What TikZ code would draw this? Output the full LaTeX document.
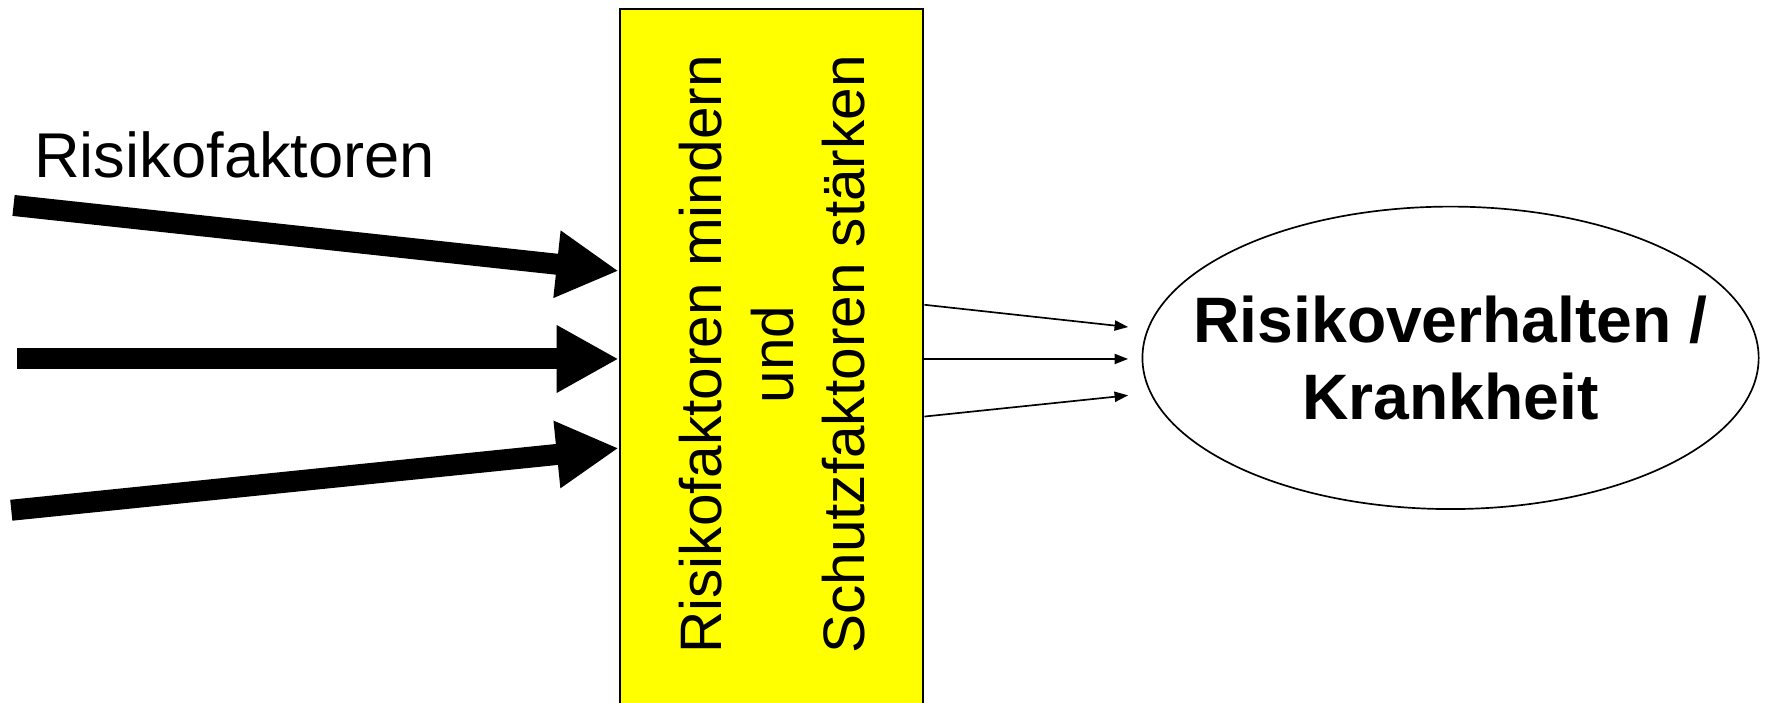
\documentclass[tikz,border=0pt]{standalone}
\usepackage{fontspec}
\setmainfont{Liberation Sans}
\usetikzlibrary{arrows.meta, shapes.geometric, calc}
\definecolor{boxyellow}{RGB}{255,255,0}
\tikzset{>=latex}
\tikzset{
  fat arrow/.style = {line width = 10.6pt, -{Triangle[length = 1.1cm, width = 1.12cm]}},
  thin arrow/.style = {line width = 0.85pt, shorten > = 0.24cm, -{Triangle[length = 0.24cm, width = 0.18cm]}},
  filter box/.style = {draw, line width = 1.1pt, fill = boxyellow, minimum width = 5.38cm, minimum height = 12.88cm, inner sep = 0pt},
  outcome/.style = {draw, ellipse, line width = 0.85pt, minimum width = 10.92cm, minimum height = 5.36cm, inner sep = 0pt}
}

\begin{document}
\begin{tikzpicture}[x = 0.02cm, y = -0.02cm]
\useasboundingbox (0,0) rectangle (1568,622);
\clip (0,0) rectangle (1568,622);
\node[filter box] (filter) at (683.5,330) {};
\node[rotate = 90, align = center, inner sep = 0pt, font = \fontsize{29.5}{35.9}\selectfont] (filtertext) at (684,314) {Risikofaktoren mindern\\und\\Schutzfaktoren st\"arken};
\node[outcome] (outcome) at (1285,317) {};
\node[align = center, inner sep = 0pt, font = \fontsize{32.4}{38.7}\selectfont\bfseries] (outcometext) at (outcome.center) {Risikoverhalten /\\Krankheit};
\node[anchor = base west, inner sep = 0pt, font = \fontsize{31.9}{38}\selectfont] (risk) at (30,157) {Risikofaktoren};
\coordinate (in1) at (12,182);
\coordinate (in2) at (15,318);
\coordinate (in3) at (10,452);
\draw[fat arrow] (in1) -- (filter.west |- 0,240);
\draw[fat arrow] (in2) -- (filter.west |- 0,318);
\draw[fat arrow] (in3) -- (filter.west |- 0,397);
\draw[thin arrow] (filter.east |- 0,270) -- (outcome.west |- 0,291);
\draw[thin arrow] (filter.east |- 0,318) -- (outcome.west |- 0,318);
\draw[thin arrow] (filter.east |- 0,369) -- (outcome.west |- 0,349);
\end{tikzpicture}
\end{document}
